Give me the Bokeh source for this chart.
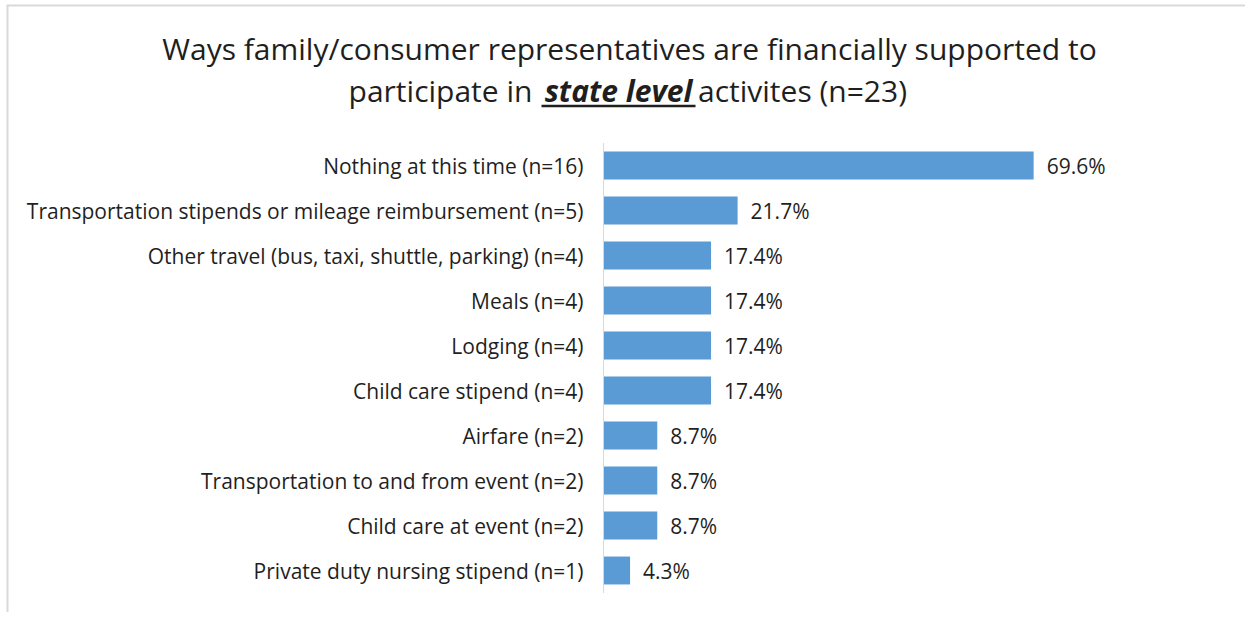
from bokeh.plotting import figure
from bokeh.models import Range1d, ColumnDataSource
from bokeh.core.properties import value
from bokeh.embed import file_html
from bokeh.resources import INLINE

# ---- data ----
categories = [
    "Nothing at this time (n=16)",
    "Transportation stipends or mileage reimbursement (n=5)",
    "Other travel (bus, taxi, shuttle, parking) (n=4)",
    "Meals (n=4)",
    "Lodging (n=4)",
    "Child care stipend (n=4)",
    "Airfare (n=2)",
    "Transportation to and from event (n=2)",
    "Child care at event (n=2)",
    "Private duty nursing stipend (n=1)",
]
percents = [69.6, 21.7, 17.4, 17.4, 17.4, 17.4, 8.7, 8.7, 8.7, 4.3]
value_labels = [f"{v:.1f}%" for v in percents]

title_line1 = "Ways family/consumer representatives are financially supported to"
title_pre = "participate in"
title_em = "state level"
title_post = "activites (n=23)"

# ---- styling / layout (pixels) ----
FONT = "Open Sans"
TXT = "#1f1f1f"
BAR = "#5B9BD5"
GRID = "#D9D9D9"
W, H = 1245, 612
X0 = 603          # pixel position of the value axis zero
PX_PER_UNIT = 6.18  # pixels per percentage point
Y_TOP = 165       # pixel centre of first category
BAND = 45         # pixels per category

n = len(categories)
ypos = [n - 1 - i for i in range(n)]  # first category at the top

p = figure(width=W, height=H,
           x_range=Range1d(-X0 / PX_PER_UNIT, (W - X0) / PX_PER_UNIT),
           y_range=Range1d(n - 1 - (H - Y_TOP) / BAND, n - 1 + Y_TOP / BAND),
           output_backend="svg", toolbar_location=None, min_border=0)
p.extra_x_ranges = {"px": Range1d(0, W)}
p.extra_y_ranges = {"px": Range1d(H, 0)}
p.axis.visible = False
p.grid.visible = False
p.outline_line_color = None

src = ColumnDataSource(dict(y=ypos, pct=percents, lab=value_labels, cat=categories,
                            zero=[0] * n))

# bars
p.hbar(y="y", right="pct", height=0.62, source=src, color=BAR, line_color=None)
# value labels
p.text(x="pct", y="y", text="lab", source=src, x_offset=13, text_font=value(FONT),
       text_font_size="21px", text_color=TXT, text_align="left", text_baseline="middle")
# category axis: line and labels
p.segment(x0=[0], y0=[-0.5], x1=[0], y1=[n - 0.5], line_color=GRID, line_width=1)
p.text(x="zero", y="y", text="cat", source=src, x_offset=-20, text_font=value(FONT),
       text_font_size="21px", text_color=TXT, text_align="right", text_baseline="middle")

# title (two lines, with bold-italic underlined words)
tkw = dict(x_range_name="px", y_range_name="px", text_font=value(FONT),
           text_font_size="30px", text_color=TXT, text_align="center",
           text_baseline="middle")
p.text(x=[629], y=[48], text=[title_line1], **tkw)
p.text(x=[440], y=[90], text=[title_pre], **tkw)
p.text(x=[618], y=[90], text=[title_em], text_font_style="bold italic", **tkw)
p.text(x=[802], y=[90], text=[title_post], **tkw)
p.segment(x0=[541], y0=[105.5], x1=[695], y1=[105.5], line_color=TXT, line_width=2.5,
          x_range_name="px", y_range_name="px")

# chart-area border (top and left)
p.segment(x0=[6, 7], y0=[5, 5], x1=[W, 7], y1=[5, H], line_color=GRID, line_width=2,
          x_range_name="px", y_range_name="px")

open("out.html", "w").write(file_html(p, INLINE))
